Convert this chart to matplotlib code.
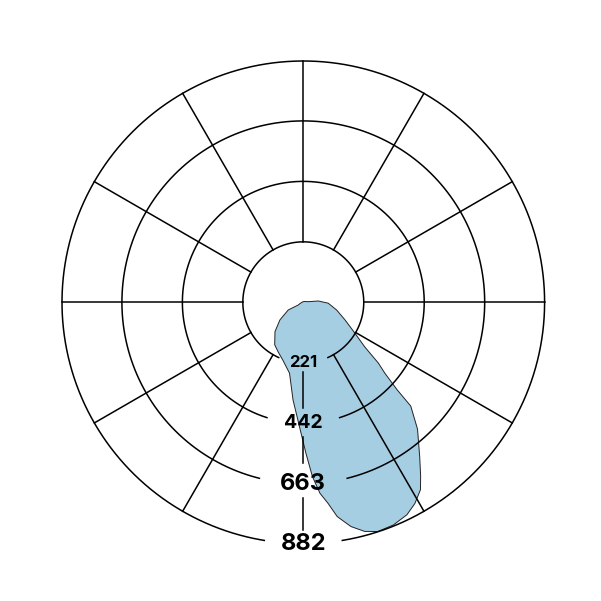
import numpy as np
import matplotlib.pyplot as plt

# intensity, angle 0 = straight down, positive towards the right
# (listed in outline order, going round the blob)
angles = [-180, -150, -120, -90, -70, -62, -63, -53, -44, -34,
          -27, -19, -11, -6, -1, 1, 3, 5, 7, 9,
          12, 15, 18, 22, 26, 29, 32, 34, 37, 42,
          46, 47, 49, 51, 54, 60, 67, 77, 88, 95,
          97, 120, 150, 180]
values = [2, 2, 3, 5, 12, 21, 62, 107, 149, 187,
          203, 226, 264, 359, 478, 552, 638, 701, 740, 793,
          838, 867, 881, 878, 864, 841, 808, 767, 707, 624,
          546, 469, 395, 353, 278, 212, 166, 125, 91, 55,
          18, 6, 3, 2]

ring_values = [221, 442, 663, 882]
ring_labels = ['221', '442', '663', '882']
spoke_angles = list(range(0, 360, 30))

rmax = 882
fig = plt.figure(figsize=(6.01, 6.01), dpi=100)
cx, cy, rad = 303.3 / 601, 1 - 302.3 / 601, 241.3 / 601
ax = fig.add_axes([cx - rad, cy - rad, 2 * rad, 2 * rad], projection='polar')
ax.set_theta_zero_location('S')
ax.set_theta_direction(1)
ax.set_ylim(0, rmax)
ax.grid(False)
ax.set_xticks([])
ax.set_yticks([])
ax.spines['polar'].set_visible(False)

# the light blob
th = np.radians(angles)
ax.fill(th, values, facecolor='#a6cee3', edgecolor='#222222', linewidth=0.7, zorder=1)

lw = 1.1
# rings, with a gap at the bottom where the label sits
gaps = [24, 17.5, 14, 9.3]
for r, g in zip(ring_values, gaps):
    t = np.radians(np.linspace(g, 360 - g, 400))
    ax.plot(t, np.full_like(t, r), color='black', lw=lw, zorder=2, clip_on=False)

# spokes from the inner ring out, the bottom one broken by the labels
for a in spoke_angles:
    if a == 0:
        continue
    ax.plot([np.radians(a)] * 2, [ring_values[0], rmax], color='black', lw=lw,
            zorder=2, clip_on=False)
for r0, r1 in [(256, 387), (493, 588), (716, 833)]:
    ax.plot([0, 0], [r0, r1], color='black', lw=lw, zorder=2)

sizes = [12, 14, 17, 17]
for r, lab, s in zip(ring_values, ring_labels, sizes):
    ax.text(0, r, lab, ha='center', va='center', fontsize=s, fontweight='bold',
            family=['Inter', 'DejaVu Sans'], zorder=3)

fig.savefig('out.png', dpi=100)
